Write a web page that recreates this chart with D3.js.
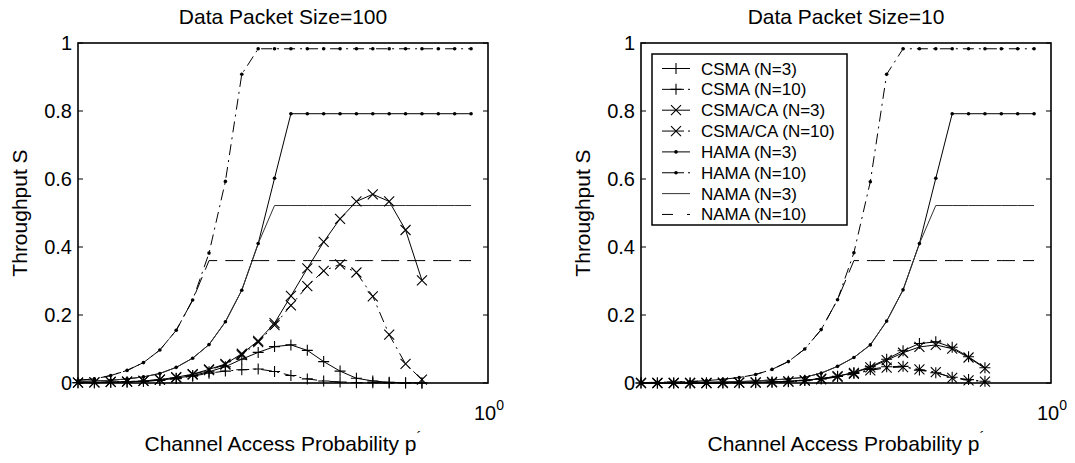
<!DOCTYPE html>
<html>
<head>
<meta charset="utf-8">
<script src="https://cdn.jsdelivr.net/npm/d3@7"></script>
<style>
  body { margin: 0; background: #fff; }
  text { font-family: "Liberation Sans", Arial, sans-serif; fill: #000; }
</style>
</head>
<body>
<div id="container"></div>
<script>
/***** data *****/
// channel access probability p' (log scale)
let pValues = [0.2000, 0.2133, 0.2274, 0.2425, 0.2586, 0.2758, 0.2941, 0.3137, 0.3345, 0.3567,
               0.3804, 0.4057, 0.4326, 0.4613, 0.4920, 0.5246, 0.5595, 0.5966, 0.6362, 0.6785,
               0.7235, 0.7716, 0.8228, 0.8774, 0.9357];
let xDomain = [0.2, 1];
let yTicks = [0, 0.2, 0.4, 0.6, 0.8, 1];
let yTickLabels = ["0", "0.2", "0.4", "0.6", "0.8", "1"];
let seriesNames = ["CSMA (N=3)", "CSMA (N=10)", "CSMA/CA (N=3)", "CSMA/CA (N=10)",
                   "HAMA (N=3)", "HAMA (N=10)", "NAMA (N=3)", "NAMA (N=10)"];
let titles = ["Data Packet Size=100", "Data Packet Size=10"];

// Data Packet Size = 100
let csma3_100   = [0.001,0.001,0.002,0.003,0.005,0.008,0.014,0.022,0.033,0.048,0.070,0.090,0.107,0.112,0.096,0.063,0.035,0.014,0.006,0.002,0.001,0.000];
let csma10_100  = [0.001,0.001,0.002,0.003,0.005,0.008,0.013,0.020,0.029,0.035,0.039,0.041,0.034,0.022,0.012,0.006,0.003,0.001,0.001,0.000,0.000,0.000];
let csmaca3_100 = [0.001,0.002,0.003,0.004,0.006,0.010,0.017,0.026,0.040,0.056,0.086,0.124,0.176,0.256,0.337,0.415,0.483,0.534,0.555,0.534,0.450,0.302];
let csmaca10_100= [0.001,0.002,0.003,0.004,0.006,0.010,0.016,0.025,0.038,0.054,0.082,0.120,0.170,0.228,0.285,0.330,0.349,0.325,0.255,0.142,0.056,0.010];
let hama3_100   = [0.004,0.006,0.008,0.012,0.018,0.028,0.046,0.073,0.113,0.180,0.273,0.410,0.602,0.792,0.792,0.792,0.792,0.792,0.792,0.792,0.792,0.792,0.792,0.792,0.792];
let hama10_100  = [0.008,0.012,0.022,0.037,0.060,0.097,0.155,0.244,0.382,0.593,0.908,0.983,0.983,0.983,0.983,0.983,0.983,0.983,0.983,0.983,0.983,0.983,0.983,0.983,0.983];
let nama3_100   = [0.004,0.006,0.008,0.012,0.018,0.028,0.046,0.073,0.113,0.180,0.273,0.410,0.522,0.522,0.522,0.522,0.522,0.522,0.522,0.522,0.522,0.522,0.522,0.522,0.522];
let nama10_100  = [0.008,0.012,0.022,0.037,0.060,0.097,0.155,0.244,0.360,0.360,0.360,0.360,0.360,0.360,0.360,0.360,0.360,0.360,0.360,0.360,0.360,0.360,0.360,0.360,0.360];

// Data Packet Size = 10
let csma3_10    = [0.000,0.000,0.000,0.000,0.000,0.001,0.001,0.002,0.003,0.005,0.008,0.013,0.020,0.031,0.048,0.070,0.095,0.116,0.121,0.105,0.077,0.045];
let csma10_10   = [0.000,0.000,0.000,0.000,0.000,0.000,0.001,0.001,0.002,0.004,0.007,0.012,0.019,0.028,0.040,0.048,0.049,0.038,0.030,0.017,0.010,0.005];
let csmaca3_10  = [0.000,0.000,0.000,0.000,0.000,0.001,0.001,0.002,0.003,0.005,0.008,0.013,0.020,0.030,0.046,0.067,0.089,0.106,0.112,0.101,0.075,0.043];
let csmaca10_10 = [0.000,0.000,0.000,0.000,0.000,0.000,0.001,0.001,0.002,0.004,0.007,0.011,0.018,0.027,0.037,0.045,0.047,0.040,0.032,0.015,0.008,0.004];
let hama3_10    = [0.001,0.001,0.001,0.002,0.002,0.003,0.004,0.006,0.009,0.012,0.017,0.029,0.049,0.075,0.112,0.182,0.274,0.410,0.602,0.792,0.792,0.792,0.792,0.792,0.792];
let hama10_10   = [0.001,0.002,0.003,0.004,0.007,0.011,0.016,0.025,0.040,0.063,0.100,0.157,0.245,0.383,0.592,0.908,0.983,0.983,0.983,0.983,0.983,0.983,0.983,0.983,0.983];
let nama3_10    = [0.001,0.001,0.001,0.002,0.002,0.003,0.004,0.006,0.009,0.012,0.017,0.029,0.049,0.075,0.112,0.182,0.274,0.410,0.522,0.522,0.522,0.522,0.522,0.522,0.522];
let nama10_10   = [0.001,0.002,0.003,0.004,0.007,0.011,0.016,0.025,0.040,0.063,0.100,0.157,0.245,0.360,0.360,0.360,0.360,0.360,0.360,0.360,0.360,0.360,0.360,0.360,0.360];

let panelData = [
  [csma3_100, csma10_100, csmaca3_100, csmaca10_100, hama3_100, hama10_100, nama3_100, nama10_100],
  [csma3_10, csma10_10, csmaca3_10, csmaca10_10, hama3_10, hama10_10, nama3_10, nama10_10]
];

/***** styles *****/
let DASHDOT = "11,5,2,5", DASHED = "18,8";
let styles = [
  {marker: "plus",  dash: null},
  {marker: "plus",  dash: DASHDOT, legendDash: "22,4,2,10"},
  {marker: "cross", dash: null},
  {marker: "cross", dash: DASHDOT, legendDash: "22,4,2,10"},
  {marker: "dot",   dash: null},
  {marker: "dot",   dash: DASHDOT, legendDash: "22,4,2,10"},
  {marker: null,    dash: null, color: "#333"},
  {marker: null,    dash: DASHED, legendDash: "11,14"}
];

/***** chart *****/
let W = 1075, H = 463;
let plotTop = 43, plotBottom = 383;
let panels = [{left: 78, right: 488}, {left: 641, right: 1051}];

let svg = d3.select("#container").append("svg")
  .attr("width", W).attr("height", H);

let y = d3.scaleLinear().domain([0, 1]).range([plotBottom, plotTop]);

function drawMarker(g, type, cx, cy) {
  if (type === "plus") {
    g.append("path").attr("d", `M${cx-5.5},${cy}H${cx+5.5}M${cx},${cy-5.5}V${cy+5.5}`)
      .attr("stroke", "#000").attr("stroke-width", 1.1).attr("fill", "none");
  } else if (type === "cross") {
    g.append("path").attr("d", `M${cx-5},${cy-5}L${cx+5},${cy+5}M${cx-5},${cy+5}L${cx+5},${cy-5}`)
      .attr("stroke", "#000").attr("stroke-width", 1.1).attr("fill", "none");
  } else if (type === "dot") {
    g.append("circle").attr("cx", cx).attr("cy", cy).attr("r", 1.8).attr("fill", "#000");
  }
}

panels.forEach(function(pn, k) {
  let x = d3.scaleLog().domain(xDomain).range([pn.left, pn.right]);
  let g = svg.append("g");

  // series
  let line = d3.line()
    .x(function(d, i) { return x(pValues[i]); })
    .y(function(d) { return y(d); });

  panelData[k].forEach(function(vals, s) {
    let st = styles[s];
    g.append("path")
      .datum(vals)
      .attr("fill", "none")
      .attr("stroke", st.color || "#000")
      .attr("stroke-width", 1)
      .attr("stroke-dasharray", st.dash)
      .attr("d", line);
  });
  panelData[k].forEach(function(vals, s) {
    let st = styles[s];
    if (!st.marker) return;
    vals.forEach(function(v, i) { drawMarker(g, st.marker, x(pValues[i]), y(v)); });
  });

  // box
  g.append("rect")
    .attr("x", pn.left).attr("y", plotTop)
    .attr("width", pn.right - pn.left).attr("height", plotBottom - plotTop)
    .attr("fill", "none").attr("stroke", "#000").attr("stroke-width", 1.6);

  // y ticks (inward on both sides) + labels
  yTicks.forEach(function(t, i) {
    g.append("line").attr("x1", pn.left).attr("x2", pn.left + 5)
      .attr("y1", y(t)).attr("y2", y(t)).attr("stroke", "#000").attr("stroke-width", 1);
    g.append("line").attr("x1", pn.right).attr("x2", pn.right - 5)
      .attr("y1", y(t)).attr("y2", y(t)).attr("stroke", "#000").attr("stroke-width", 1);
    g.append("text")
      .attr("x", pn.left - 6).attr("y", y(t) + 7)
      .attr("text-anchor", "end").attr("font-size", 20)
      .text(yTickLabels[i]);
  });

  // x tick label 10^0
  let xl = g.append("text")
    .attr("x", x(1) + 1).attr("y", 420)
    .attr("text-anchor", "middle").attr("font-size", 20);
  xl.append("tspan").text("10");
  xl.append("tspan").attr("font-size", 14).attr("dy", -10).text("0");

  // title
  g.append("text")
    .attr("x", (pn.left + pn.right) / 2).attr("y", 24)
    .attr("text-anchor", "middle").attr("font-size", 21)
    .text(titles[k]);

  // axis labels
  let xt = g.append("text")
    .attr("x", (pn.left + pn.right) / 2).attr("y", 451)
    .attr("text-anchor", "middle").attr("font-size", 21);
  xt.append("tspan").text("Channel Access Probability p");
  xt.append("tspan").attr("dy", -9).attr("font-size", 15).text("\u00B4");

  g.append("text")
    .attr("transform", "translate(" + (pn.left - 51) + "," + ((plotTop + plotBottom) / 2) + ") rotate(-90)")
    .attr("text-anchor", "middle").attr("font-size", 21)
    .text("Throughput S");

  // legend (right panel only)
  if (k === 1) {
    let lg = g.append("g");
    lg.append("rect")
      .attr("x", 652).attr("y", 54).attr("width", 195).attr("height", 171)
      .attr("fill", "#fff").attr("stroke", "#000").attr("stroke-width", 1.5);
    seriesNames.forEach(function(name, s) {
      let st = styles[s];
      let ly = 68.5 + s * 20.85;
      lg.append("line")
        .attr("x1", 662).attr("x2", 690).attr("y1", ly).attr("y2", ly)
        .attr("stroke", st.color || "#000").attr("stroke-width", 1)
        .attr("stroke-dasharray", st.legendDash || null);
      drawMarker(lg, st.marker, 676, ly);
      lg.append("text")
        .attr("x", 701).attr("y", ly + 6)
        .attr("font-size", 17)
        .text(name);
    });
  }
});
</script>
</body>
</html>
